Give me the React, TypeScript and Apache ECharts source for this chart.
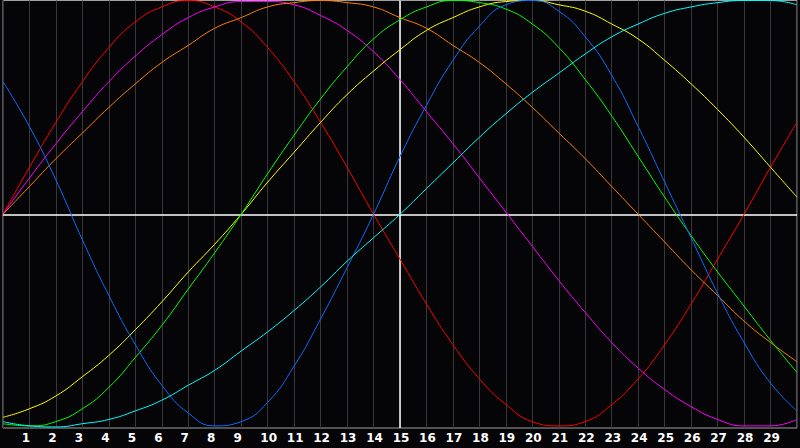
import { useEffect, useRef } from "react";
import * as echarts from "echarts";

// x positions 0..30, one value per grid line
const xs = [
  0, 1, 2, 3, 4, 5, 6, 7, 8, 9, 10, 11, 12, 13, 14, 15, 16, 17, 18, 19, 20, 21, 22, 23, 24, 25, 26,
  27, 28, 29, 30,
];

const red = [
  0, 0.22, 0.43, 0.62, 0.78, 0.9, 0.97, 1.0, 0.97, 0.9, 0.78, 0.62, 0.43, 0.22, 0.0, -0.21, -0.42,
  -0.61, -0.77, -0.89, -0.97, -0.99, -0.97, -0.89, -0.77, -0.61, -0.42, -0.21, 0, 0.22, 0.43,
];
const magenta = [
  0, 0.17, 0.33, 0.48, 0.62, 0.74, 0.84, 0.92, 0.97, 0.995, 0.995, 0.98, 0.93, 0.86, 0.76, 0.63,
  0.48, 0.33, 0.17, 0.01, -0.15, -0.31, -0.46, -0.6, -0.72, -0.82, -0.9, -0.96, -0.99, -0.99, -0.96,
];
const orange = [
  0, 0.13, 0.26, 0.38, 0.5, 0.61, 0.71, 0.79, 0.87, 0.92, 0.97, 0.99, 1.0, 0.99, 0.97, 0.92, 0.87,
  0.79, 0.71, 0.61, 0.5, 0.38, 0.26, 0.13, 0, -0.13, -0.26, -0.38, -0.5, -0.6, -0.69,
];
const yellow = [
  -0.95, -0.91, -0.85, -0.76, -0.66, -0.54, -0.41, -0.27, -0.14, 0, 0.15, 0.29, 0.43, 0.56, 0.67,
  0.77, 0.86, 0.92, 0.97, 0.995, 1.0, 0.98, 0.95, 0.89, 0.82, 0.72, 0.61, 0.49, 0.36, 0.22, 0.08,
];
const green = [
  -0.98, -0.99, -0.97, -0.91, -0.81, -0.67, -0.52, -0.35, -0.18, 0, 0.19, 0.37, 0.54, 0.69, 0.82,
  0.91, 0.97, 1.0, 0.99, 0.96, 0.89, 0.78, 0.63, 0.46, 0.27, 0.08, -0.1, -0.27, -0.43, -0.59, -0.74,
];
const blue = [
  0.62, 0.41, 0.16, -0.12, -0.38, -0.61, -0.8, -0.93, -0.99, -0.97, -0.88, -0.71, -0.49, -0.25, 0,
  0.27, 0.51, 0.72, 0.88, 0.98, 1.0, 0.95, 0.83, 0.65, 0.41, 0.15, -0.11, -0.37, -0.6, -0.79, -0.92,
];
const cyan = [
  -0.97, -0.99, -0.995, -0.98, -0.96, -0.92, -0.87, -0.8, -0.73, -0.64, -0.55, -0.45, -0.34, -0.22,
  -0.11, 0, 0.12, 0.24, 0.36, 0.47, 0.57, 0.66, 0.75, 0.83, 0.89, 0.94, 0.97, 0.99, 1.0, 1.0, 0.98,
];

const seriesList = [
  { name: "red", color: "#ff0000", values: red },
  { name: "magenta", color: "#ff00ff", values: magenta },
  { name: "orange", color: "#ff8000", values: orange },
  { name: "yellow", color: "#ffff00", values: yellow },
  { name: "green", color: "#00ff00", values: green },
  { name: "blue", color: "#0a6cff", values: blue },
  { name: "cyan", color: "#00ffff", values: cyan },
];

const labelText = {
  color: "#ffffff",
  fontFamily: "DejaVu Sans",
  fontWeight: "bold" as const,
  fontSize: 12,
};

function buildOption(): echarts.EChartsOption {
  return {
    animation: false,
    backgroundColor: "#050508",
    grid: {
      left: 0.5,
      right: 0.5,
      top: 0.5,
      bottom: 20,
      show: true,
      borderColor: "#a0a0a0",
      borderWidth: 1,
      backgroundColor: "transparent",
    },
    xAxis: {
      type: "value",
      min: 0,
      max: 30,
      interval: 1,
      axisLine: { show: false },
      axisTick: { show: false },
      splitLine: { show: true, lineStyle: { color: "#38383c", width: 1 } },
      axisLabel: {
        ...labelText,
        margin: 4,
        // single digits sit a little left of their grid line
        formatter: (v: number) => {
          if (v <= 0 || v >= 30) return "";
          return v < 10 ? `{s|${v}}` : `{d|${v}}`;
        },
        rich: {
          s: { ...labelText, padding: [0, 7, 0, 0] },
          d: { ...labelText, padding: [0, 0, 0, 2] },
        },
      },
    },
    yAxis: {
      type: "value",
      min: -1,
      max: 1,
      axisLine: { show: false },
      axisTick: { show: false },
      axisLabel: { show: false },
      splitLine: { show: false },
    },
    series: seriesList.map((s, i) => ({
      type: "line",
      name: s.name,
      data: xs.map((x, j) => [x, s.values[j]]),
      smooth: 0.5,
      showSymbol: false,
      silent: true,
      lineStyle: { color: s.color, width: 1 },
      z: 3,
      ...(i === 0
        ? {
            markLine: {
              silent: true,
              symbol: "none",
              label: { show: false },
              lineStyle: { color: "#ffffff", type: "solid", width: 1.5 },
              data: [{ xAxis: 15 }, { yAxis: 0 }],
              z: 2,
            },
          }
        : {}),
    })),
  };
}

export default function App() {
  const ref = useRef<HTMLDivElement | null>(null);

  useEffect(() => {
    const el = ref.current;
    if (!el) return;
    document.body.style.margin = "0";
    const chart = echarts.init(el, undefined, { renderer: "svg" });
    chart.setOption(buildOption());
    return () => {
      chart.dispose();
    };
  }, []);

  return (
    <div
      ref={ref}
      style={{ position: "fixed", left: 0, top: 0, width: 800, height: 448, background: "#000" }}
    />
  );
}
